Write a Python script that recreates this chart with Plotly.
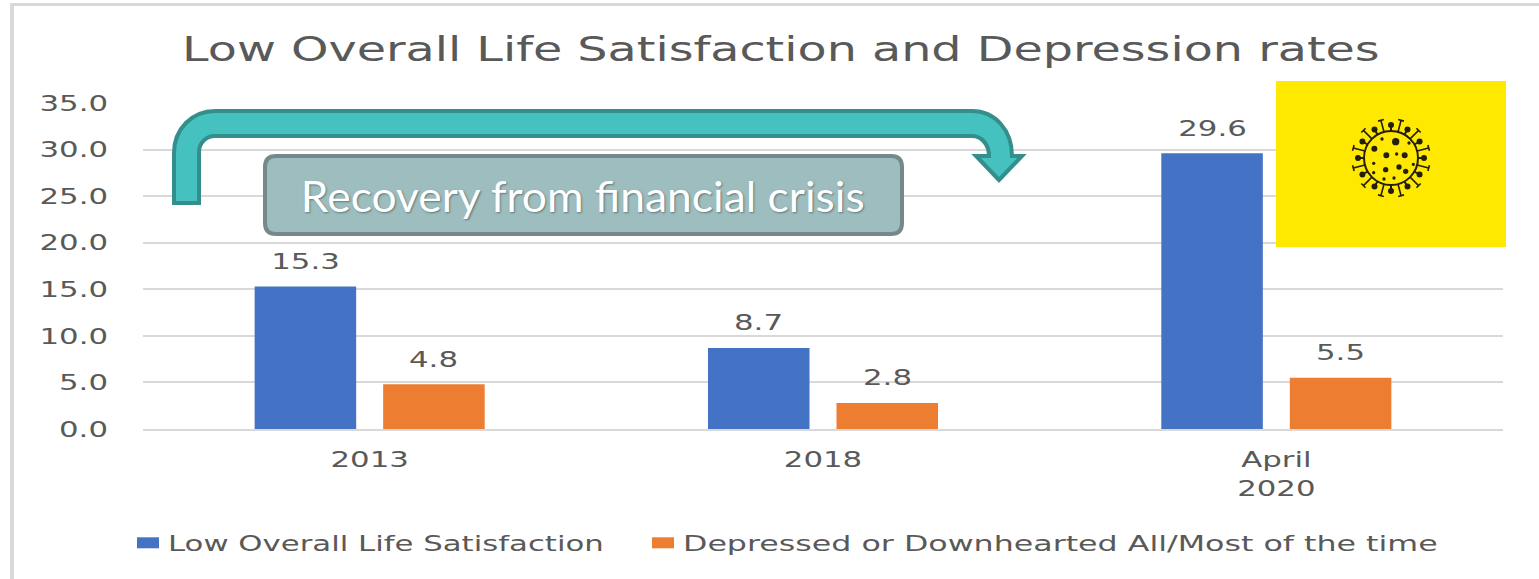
import json
import math
import plotly.graph_objects as go

W, H = 1539, 579
categories = ["2013", "2018", "April<br>2020"]
series_low = [15.3, 8.7, 29.6]
series_dep = [4.8, 2.8, 5.5]
name_low = "Low Overall Life Satisfaction"
name_dep = "Depressed or Downhearted All/Most of the time"
title_text = "Low Overall Life Satisfaction and Depression rates"
callout_text = "Recovery from financial crisis"
y_ticks = [0, 5, 10, 15, 20, 25, 30, 35]

L, R, T, B = 143, 1503, 103, 429
GREY = "#595959"
FONT = "DejaVu Sans"


def X(x):
    return (x - L) / (R - L)


def Y(y):
    return (B - y) / (B - T)


def path(cmds):
    out = []
    for c in cmds:
        if isinstance(c, str):
            out.append(c)
        else:
            out.append(f"{X(c[0]):.5f},{Y(c[1]):.5f}")
    return " ".join(out)


shapes = []


def rect(x0, y0, x1, y1, **kw):
    shapes.append(dict(type="rect", xref="paper", yref="paper", x0=X(x0), x1=X(x1), y0=Y(y0), y1=Y(y1), **kw))


def circle(cx, cy, r, color):
    shapes.append(dict(type="circle", xref="paper", yref="paper", x0=X(cx - r), x1=X(cx + r), y0=Y(cy - r), y1=Y(cy + r),
                       fillcolor=color, line=dict(width=0)))


def line(x0, y0, x1, y1, color, width):
    shapes.append(dict(type="line", xref="paper", yref="paper", x0=X(x0), x1=X(x1), y0=Y(y0), y1=Y(y1),
                       line=dict(color=color, width=width)))


# outer frame
line(12, 3, 12, 579, "#d9d9d9", 4)
line(10, 4.5, 1539, 4.5, "#d9d9d9", 3)

# curved arrow
arrow = path([
    "M", (174, 203), "L", (174, 153),
    "C", (174, 129), (192, 111), (215, 111),
    "L", (972, 111),
    "C", (995, 111), (1012, 130), (1012, 156),
    "L", (1022, 156), "L", (999, 180), "L", (976, 156), "L", (989, 156),
    "C", (989, 145), (982, 136), (972, 136),
    "L", (215, 136),
    "C", (206, 136), (199, 143), (199, 152),
    "L", (199, 203), "Z",
])
shapes.append(dict(type="path", xref="paper", yref="paper", path=arrow, fillcolor="#45C1BF",
                   line=dict(color="#338E8C", width=4)))

# callout box
r = 11
bx0, by0, bx1, by1 = 265, 156, 902, 234
box = path([
    "M", (bx0 + r, by0), "L", (bx1 - r, by0), "Q", (bx1, by0), (bx1, by0 + r),
    "L", (bx1, by1 - r), "Q", (bx1, by1), (bx1 - r, by1),
    "L", (bx0 + r, by1), "Q", (bx0, by1), (bx0, by1 - r),
    "L", (bx0, by0 + r), "Q", (bx0, by0), (bx0 + r, by0), "Z",
])
shapes.append(dict(type="path", xref="paper", yref="paper", path=box, fillcolor="#9DBDBF",
                   line=dict(color="#75898B", width=4)))

# yellow panel and virus icon
rect(1276, 81, 1506, 247, fillcolor="#FFE900", line=dict(width=0))
VX, VY = 1391, 158
INK = "#231F0A"
shapes.append(dict(type="circle", xref="paper", yref="paper", x0=X(VX - 27), x1=X(VX + 27), y0=Y(VY - 27), y1=Y(VY + 27),
                   fillcolor="#FFE900", line=dict(color=INK, width=2)))
for i in range(24):
    a = math.radians(i * 15)
    ux, uy = math.sin(a), -math.cos(a)
    if i % 2 == 0:
        line(VX + 27 * ux, VY + 27 * uy, VX + 32 * ux, VY + 32 * uy, INK, 2)
        circle(VX + 33 * ux, VY + 33 * uy, 3, INK)
    else:
        line(VX + 27 * ux, VY + 27 * uy, VX + 39 * ux, VY + 39 * uy, INK, 1.6)
        line(VX + 39 * ux - 3 * uy, VY + 39 * uy + 3 * ux, VX + 39 * ux + 3 * uy, VY + 39 * uy - 3 * ux, INK, 1.6)
virus_dots = [(377, 200, 11), (313, 221, 9), (336, 192, 5), (417, 204, 5), (349, 241, 9), (380, 237, 5),
              (404, 241, 9), (311, 265, 5), (347, 284, 8), (387, 276, 8), (407, 289, 8), (430, 268, 5),
              (311, 293, 5), (342, 312, 5), (372, 309, 5)]
for zx, zy, zr in virus_dots:
    circle(1270 + zx / 3, 75 + zy / 3, zr / 3, INK)

fig = go.Figure()
fig.add_bar(name=name_low, x=categories, y=series_low, marker=dict(color="#4472C4", line=dict(width=0)))
fig.add_bar(name=name_dep, x=categories, y=series_dep, marker=dict(color="#ED7D31", line=dict(width=0)))

LABEL_XSHIFT = 64.25
annotations = [
    dict(text=title_text, xref="paper", yref="paper", x=X(781), y=Y(49), xanchor="center", yanchor="middle",
         showarrow=False, font=dict(size=33, color=GREY, family=FONT)),
    dict(text=callout_text, xref="paper", yref="paper", x=X(583), y=Y(196), xanchor="center", yanchor="middle",
         showarrow=False, font=dict(size=42, color="white", family="Lato", shadow="1px 1px 2px #5d7a7c")),
]
for vals, shift in ((series_low, -LABEL_XSHIFT), (series_dep, LABEL_XSHIFT)):
    for idx, v in enumerate(vals):
        annotations.append(dict(text=f"{v:.1f}", x=idx, y=v, xref="x", yref="y", xshift=shift, yshift=25,
                                xanchor="center", yanchor="middle", showarrow=False,
                                font=dict(size=22, color=GREY, family=FONT)))

fig.update_layout(
    width=W, height=H, autosize=False,
    margin=dict(l=L, r=W - R, t=T, b=H - B, pad=0),
    paper_bgcolor="white", plot_bgcolor="white",
    barmode="group", bargap=0.433, bargroupgap=0.21,
    font=dict(family=FONT, color=GREY, size=22),
    showlegend=True,
    legend=dict(orientation="h", x=X(128), xanchor="left", y=Y(543), yanchor="middle",
                font=dict(size=22, color=GREY), bgcolor="rgba(0,0,0,0)", entrywidth=470, entrywidthmode="pixels"),
    shapes=shapes,
    annotations=annotations,
    xaxis=dict(type="category", range=[-0.5, 2.5], showgrid=False, showline=True, linecolor="#d9d9d9", linewidth=2,
               ticks="", tickfont=dict(size=22, color=GREY), ticklabelstandoff=10),
    yaxis=dict(range=[0, 35], tickvals=y_ticks, tickformat=".1f", showgrid=True, gridcolor="#d9d9d9", gridwidth=2,
               zeroline=False, showline=False, ticks="", tickfont=dict(size=22, color=GREY), ticklabelstandoff=34),
)

# The reference is a horizontally stretched picture: widen each real text element to the same measure.
text_widths = {title_text: 1198, name_low: 436, name_dep: 755, callout_text: 564}
post = """
document.body.style.margin='0';document.body.style.overflow='hidden';
var widths = %s;
document.querySelectorAll('svg.main-svg text').forEach(function(el){
  var t = el.textContent, s = 1.40;
  if (widths[t]) { s = widths[t] / el.getComputedTextLength(); }
  var ax = parseFloat(el.getAttribute('x')) || 0;
  var old = el.getAttribute('transform') || '';
  el.setAttribute('transform', old + ' translate(' + ax + ',0) scale(' + s + ',1) translate(' + (-ax) + ',0)');
});
document.querySelectorAll('.legend .scrollbox, .legend').forEach(function(e){e.removeAttribute('clip-path');});
document.querySelectorAll('.legend .legendpoints path').forEach(function(e){
  e.setAttribute('d','M11,5.5H-11V-5.5H11Z');
});
""" % json.dumps(text_widths)
fig.write_html("out.html", post_script=post, config={"displayModeBar": False})
